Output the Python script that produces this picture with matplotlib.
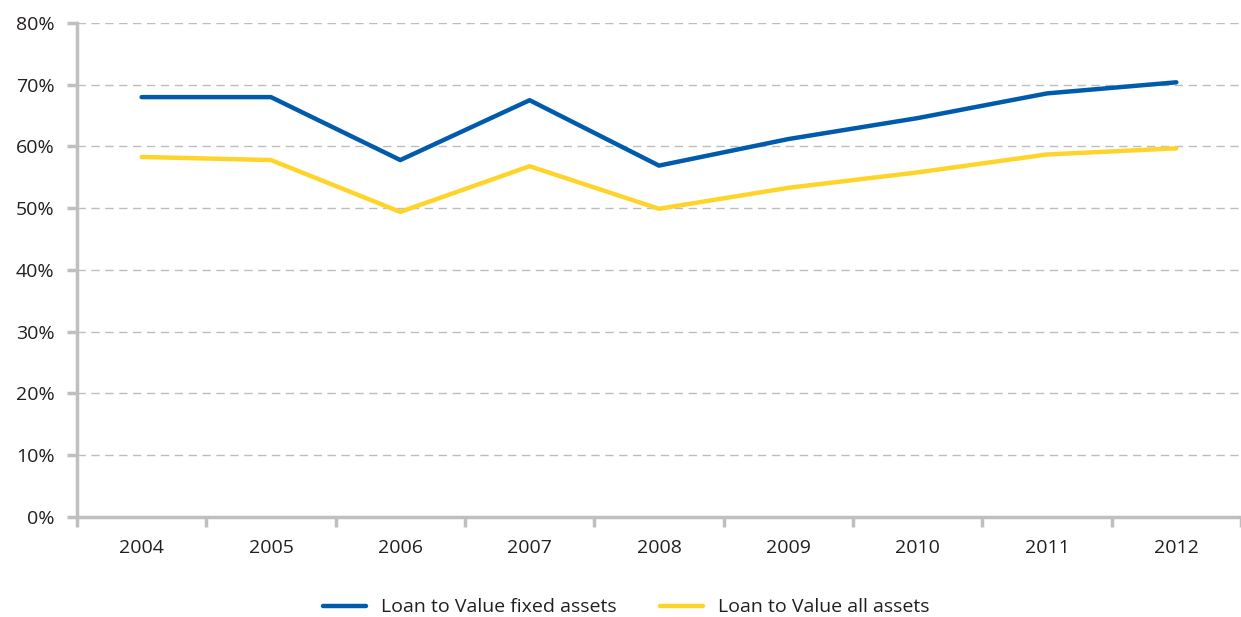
import matplotlib.pyplot as plt
from matplotlib.ticker import FuncFormatter

years = ["2004", "2005", "2006", "2007", "2008", "2009", "2010", "2011", "2012"]
ltv_fixed = [68.0, 68.0, 57.8, 67.5, 56.9, 61.2, 64.6, 68.6, 70.4]
ltv_all = [58.3, 57.8, 49.4, 56.8, 49.9, 53.3, 55.8, 58.7, 59.7]

plt.rcParams['font.family'] = ['Open Sans', 'DejaVu Sans']

fig = plt.figure(figsize=(12.41, 6.17), dpi=100)
ax = fig.add_axes([0.062, 0.1626, 0.938, 0.8])

x = range(len(years))
ax.plot(x, ltv_fixed, color='#005BAC', lw=3.2, solid_capstyle='round',
        label="Loan to Value fixed assets")
ax.plot(x, ltv_all, color='#FFD42A', lw=3.2, solid_capstyle='round',
        label="Loan to Value all assets")

ax.set_xlim(-0.5, len(years) - 0.5)
ax.set_ylim(0, 80)
ax.set_yticks(range(0, 81, 10))
ax.yaxis.set_major_formatter(FuncFormatter(lambda v, p: f"{v:.0f}%"))
ax.set_xticks([i - 0.5 for i in range(len(years) + 1)])
ax.set_xticklabels([])
ax.set_xticks(list(x), minor=True)
ax.set_xticklabels(years, minor=True)

ax.grid(axis='y', color='#BDBDBD', ls=(0, (6, 4)), lw=1)
ax.set_axisbelow(True)
for s in ['top', 'right']:
    ax.spines[s].set_visible(False)
for s in ['left', 'bottom']:
    ax.spines[s].set_color('#BFBFC1')
    ax.spines[s].set_linewidth(2.5)
ax.tick_params(axis='y', which='major', length=7, width=2.5, color='#BFBFC1',
               labelsize=14, labelcolor='#231F20', pad=9)
ax.tick_params(axis='x', which='major', length=7, width=2.5, color='#BFBFC1')
ax.tick_params(axis='x', which='minor', length=0, labelsize=14,
               labelcolor='#231F20', pad=16)

ax.legend(loc='upper center', bbox_to_anchor=(0.472, -0.13), ncol=2, frameon=False,
          fontsize=14, handlelength=2.2, columnspacing=2.2, labelcolor='#231F20')

fig.savefig('out.png', dpi=100)
